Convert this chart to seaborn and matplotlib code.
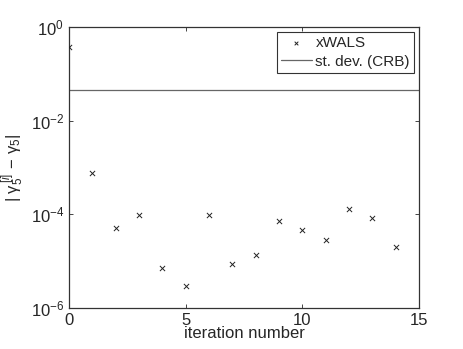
import matplotlib
matplotlib.use("Agg")
import matplotlib.pyplot as plt
import seaborn as sns
import pandas as pd
from matplotlib.ticker import LogLocator, NullLocator

iterations = list(range(15))
errors = [0.368, 7.7e-4, 5.15e-5, 9.5e-5, 7.0e-6, 2.9e-6, 9.9e-5, 8.9e-6,
          1.34e-5, 7.3e-5, 4.7e-5, 2.77e-5, 1.31e-4, 8.4e-5, 2.0e-5]
crb_std = 0.045

sns.set_style("ticks")
plt.rcParams["font.family"] = ["Liberation Sans", "DejaVu Sans"]
plt.rcParams["mathtext.fontset"] = "custom"
plt.rcParams["mathtext.rm"] = "Liberation Sans"
plt.rcParams["mathtext.it"] = "Liberation Sans:italic"

df = pd.DataFrame({"iteration": iterations, "error": errors})

fig = plt.figure(figsize = (4.63, 3.49), dpi = 100)
ax = fig.add_axes([69 / 463, 1 - 308 / 349, 350 / 463, 281 / 349])

sns.scatterplot(data = df, x = "iteration", y = "error", marker = "x", color = "#222222",
                s = 14, linewidth = 0.7, label = "xWALS", ax = ax, zorder = 3)
ax.axhline(crb_std, color = "#666666", linewidth = 0.9, label = "st. dev. (CRB)")

ax.set_yscale("log")
ax.set_xlim(0, 15)
ax.set_ylim(1e-6, 1e0)
ax.set_xticks([0, 5, 10, 15])
ax.yaxis.set_major_locator(LogLocator(base = 100.0))
ax.yaxis.set_minor_locator(NullLocator())
ax.tick_params(direction = "in", top = True, right = True, labelsize = 12, length = 3, width = 0.6)
for spine in ax.spines.values():
    spine.set_linewidth(0.9)
    spine.set_color("#333333")

ax.set_xlabel("iteration number", fontsize = 12, labelpad = -1)
ax.set_ylabel(r"$|\ \mathrm{\gamma}_5^{\,[i]}\, - \,\mathrm{\gamma}_5|$", fontsize = 12)
ax.yaxis.set_label_coords(-0.122, 0.5)

leg = ax.legend(loc = "upper right", fontsize = 11, frameon = True, fancybox = False,
                borderaxespad = 0.35, borderpad = 0.25, handlelength = 2.0, labelspacing = 0.3,
                handletextpad = 0.25, markerscale = 0.7)
leg.get_frame().set_edgecolor("black")
leg.get_frame().set_linewidth(0.8)

fig.savefig("out.png", dpi = 100)
